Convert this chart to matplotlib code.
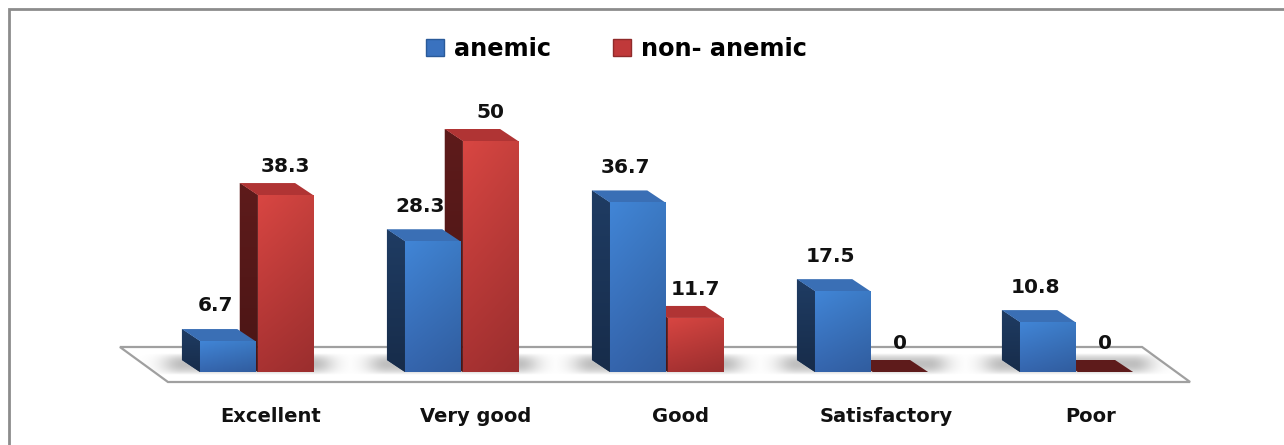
import numpy as np
import matplotlib.pyplot as plt
from matplotlib.patches import Polygon, Patch, Rectangle
from matplotlib.colors import to_rgb

plt.rcParams['font.family'] = 'DejaVu Sans'

categories = ['Excellent', 'Very good', 'Good', 'Satisfactory', 'Poor']
anemic = [6.7, 28.3, 36.7, 17.5, 10.8]
non_anemic = [38.3, 50, 11.7, 0, 0]
series_names = ['anemic', 'non- anemic']

# front / side / top colours for the fake 3D look
blue = {'front': ('#4185d6', '#3565ad'), 'side': ('#1f3c63', '#172c4a'),
        'top': ('#3a6fb5', '#2c5995'), 'legend': '#3a72bf'}
red = {'front': ('#d84642', '#a83232'), 'side': ('#5e1b1b', '#4a1515'),
       'top': ('#b03434', '#962a2a'), 'legend': '#c0393a'}

W, H = 1284, 445
fig = plt.figure(figsize=(W / 100, H / 100), dpi=100)
ax = fig.add_axes([0, 0, 1, 1])
ax.axis('off')

# scale: one category = 205 px, one unit = 4.62 px
px_cat = 205.0
px_unit = 4.62
x0_px = 256.5
y0_px = 372.0
xlim = (-x0_px / px_cat, (W - x0_px) / px_cat)
ylim = ((y0_px - H) / px_unit, y0_px / px_unit)

bw = 0.27            # bar width
off = 0.141          # bar offset from group centre
dx = -18 / px_cat    # depth offset of bars
dy = 12 / px_unit
n = len(categories)
x = np.arange(n)


def grad_img(patch, extent, c_top, c_bot, z, shade_x=0.0):
    # vertical gradient image clipped to a patch
    xa, xb, ya, yb = extent
    if yb - ya < 1e-6:
        return
    t = np.linspace(0, 1, 60)[:, None, None]
    s = np.linspace(0, 1, 20)[None, :, None]
    img = np.array(to_rgb(c_top)) * (1 - t) + np.array(to_rgb(c_bot)) * t
    img = img * (1 - shade_x * s)
    img = np.clip(img, 0, 1)
    im = ax.imshow(img, extent=[xa, xb, ya, yb], aspect='auto',
                   origin='upper', zorder=z, interpolation='bilinear')
    im.set_clip_path(patch)


# floor
fl_front, fl_back = -10 / px_unit, 25 / px_unit
fl_left, fl_right = -0.432, n - 1 + 0.554
fl_shift = -48 / px_cat
floor = Polygon([(fl_left, fl_front), (fl_right, fl_front),
                 (fl_right + fl_shift, fl_back), (fl_left + fl_shift, fl_back)],
                closed=True, facecolor='white', edgecolor='#a0a0a0',
                lw=1.6, zorder=1)
ax.add_patch(floor)

# soft shadows on the floor around each group
gx = np.linspace(fl_left + fl_shift, fl_right, 1200)
alpha = np.zeros_like(gx)
for i in range(n):
    a, b = i - off - bw / 2 + dx, i + off + bw / 2
    d = np.where(gx < a, a - gx, np.where(gx > b, gx - b, 0.0))
    alpha = np.maximum(alpha, 0.5 * np.exp(-(d / 0.1) ** 2))
gy = np.linspace(0, 1, 30)
va = np.sin(np.pi * gy) ** 0.8
shadow = np.zeros((30, len(gx), 4))
shadow[..., :3] = 0.5
shadow[..., 3] = alpha[None, :] * va[:, None]
im = ax.imshow(shadow, extent=[gx[0], gx[-1], -0.6, dy + 1.4],
               aspect='auto', origin='upper', zorder=2, interpolation='bilinear')
im.set_clip_path(floor)


def draw_series(vals, pos, col, z):
    bars = ax.bar(pos, vals, width=bw, color=col['front'][0], zorder=z + 2,
                  linewidth=0)
    for rect, v in zip(bars, vals):
        xl = rect.get_x()
        xr = xl + rect.get_width()
        side = Polygon([(xl, 0), (xl + dx, dy), (xl + dx, v + dy), (xl, v)],
                       closed=True, facecolor=col['side'][0], lw=0, zorder=z)
        ax.add_patch(side)
        grad_img(side, (xl + dx, xl, 0, v + dy), col['side'][0], col['side'][1], z + 0.5)
        tcol = col['top'] if v > 0 else col['side']
        top = Polygon([(xl, v), (xr, v), (xr + dx, v + dy), (xl + dx, v + dy)],
                      closed=True, facecolor=tcol[0], lw=0, zorder=z + 1)
        ax.add_patch(top)
        if v > 0:
            grad_img(rect, (xl, xr, 0, v), col['front'][0], col['front'][1],
                     z + 2.5, shade_x=0.08)
    return bars


for i in range(n):
    zb = 10 + i * 10
    draw_series([non_anemic[i]], [x[i] + off], red, zb)
    draw_series([anemic[i]], [x[i] - off], blue, zb + 5)

# value labels
lab_kw = dict(ha='center', va='center', fontsize=14.5, fontweight='bold',
              color='#111111', zorder=200)
for i in range(n):
    ax.text(x[i] - off - 0.06, anemic[i] + dy + 5.0, f'{anemic[i]:g}', **lab_kw)
    ax.text(x[i] + off, non_anemic[i] + dy + 3.6, f'{non_anemic[i]:g}', **lab_kw)

# category labels
for i, c in enumerate(categories):
    ax.text(x[i] + 0.07, (y0_px - 417) / px_unit, c, ha='center', va='center',
            fontsize=14, fontweight='bold', color='#111111')

ax.set_xlim(*xlim)
ax.set_ylim(*ylim)

handles = [Patch(facecolor=blue['legend'], edgecolor='#2a5a99', label=series_names[0]),
           Patch(facecolor=red['legend'], edgecolor='#8f2a2a', label=series_names[1])]
leg = fig.legend(handles=handles, loc='center', bbox_to_anchor=(0.48, 0.89),
                 ncol=2, frameon=False, handlelength=0.75, handleheight=0.75,
                 handletextpad=0.4, columnspacing=2.6,
                 prop={'size': 17.3, 'weight': 'bold'})

# outer chart frame
fig.patches.append(Rectangle((9 / W, -0.1), 1.2, 1.1 - 9 / H, fill=False,
                             edgecolor='#8c8c8c', lw=2,
                             transform=fig.transFigure, figure=fig))

plt.savefig('out.png', dpi=100)
